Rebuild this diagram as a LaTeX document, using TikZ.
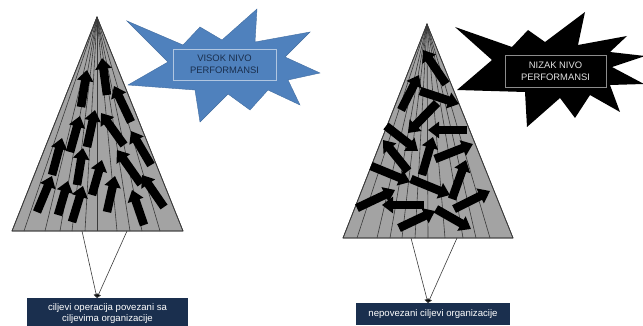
\documentclass[tikz,border=0pt]{standalone}
\usepackage{fontspec}
\setmainfont{Liberation Sans}
\usetikzlibrary{arrows.meta}
\definecolor{starblue}{HTML}{4F81BD}
\definecolor{navy}{HTML}{1A2F4E}
\definecolor{conegray}{HTML}{A3A3A3}
\definecolor{ribgray}{HTML}{3A3A3A}
\begin{document}
\begin{tikzpicture}[x=1pt,y=-1pt,
  cone/.style={fill=conegray,draw=ribgray,line width=0.7pt,line join=round},
  rib/.style={draw=ribgray,line width=0.6pt},
  blk/.style={line width=8.5pt,draw=black,
    -{Triangle[width=16pt,length=11pt,fill=black]}},
  conn/.style={draw=ribgray,line width=0.6pt,
    -{Triangle[width=5pt,length=4pt,fill=black]}},
  goalbox/.style={fill=navy,draw=none,text=white,align=center,
    font=\fontsize{9.6}{11}\selectfont},
  labelbox/.style={align=center,font=\fontsize{9.4}{12}\selectfont,
    minimum width=103pt,minimum height=31pt,inner sep=0pt,line width=0.7pt}]
\useasboundingbox (0,0) rectangle (643,326);

% ---------- left: aligned goals ----------
\coordinate (LA) at (97,17);
\fill[cone] (LA) -- (12,231) -- (183,231) -- cycle;
\foreach \x in {24,45,60,72,85,97,117,130,142,160}
  \draw[rib] (LA) -- (\x,231);
\draw[cone,fill=none] (LA) -- (12,231) -- (183,231) -- cycle;

% arrows all heading upward
\foreach \tx/\ty/\hx/\hy in {
  107/95/102/58, 81/107/87/70, 131/122/114/86, 70/152/80/116,
  87/147/95/110, 124/145/101/113, 151/165/131/131, 52/175/62/138,
  77/185/83/148, 92/195/102/160, 141/184/117/150, 164/207/142/175,
  37/212/52/176, 58/215/68/181, 72/222/83/186, 107/212/115/176,
  144/225/132/190}
  \draw[blk] (\tx,\ty) -- (\hx,\hy);

% blue burst
\fill[starblue,draw=starblue!85!black,line width=0.4pt,line join=miter]
  (127,21) -- (183,45) -- (200,27) -- (222,40) -- (257,9) -- (255,42)
  -- (310,32) -- (285,57) -- (320,73) -- (288,80) -- (300,105)
  -- (268,90) -- (250,110) -- (228,94) -- (200,122) -- (195,90)
  -- (128,85) -- (168,62) -- cycle;
\node[labelbox,draw=starblue!45!white,text=navy] (high) at (224.5,64.5)
  {VISOK NIVO\\PERFORMANSI};

% goal box and its connectors
\node[goalbox,minimum width=161pt,minimum height=32pt,inner sep=0pt]
  (goalL) at (107.5,314) {ciljevi operacija povezani sa\\ciljevima organizacije};
\coordinate (lb1) at (82,231);
\coordinate (lb2) at (127,231);
\coordinate (lt) at (97,298);
\draw[conn] (lb1) -- (lt);
\draw[conn] (lb2) -- (lt);

% ---------- right: unaligned goals ----------
\coordinate (RA) at (427,24);
\fill[cone] (RA) -- (343,238) -- (513,238) -- cycle;
\foreach \x in {357,377,390,402,415,428,445,463,476,490}
  \draw[rib] (RA) -- (\x,238);
\draw[cone,fill=none] (RA) -- (343,238) -- (513,238) -- cycle;

% arrows scattered in every direction
\foreach \tx/\ty/\hx/\hy in {
  446/84/423/50, 401/110/419/75, 420/91/459/104, 437/103/408/133,
  467/130/428/130, 386/126/418/151, 422/175/433/137, 435/159/473/144,
  408/171/383/140, 371/166/410/182, 452/199/466/160, 411/179/450/195,
  357/208/395/190, 424/205/382/205, 454/209/490/191, 399/228/435/211,
  436/209/471/229}
  \draw[blk] (\tx,\ty) -- (\hx,\hy);

% black burst
\fill[black,line join=miter]
  (455,27) -- (512,47) -- (528,30) -- (545,42) -- (585,12) -- (578,45)
  -- (627,36) -- (610,52) -- (645,56) -- (612,67) -- (644,84)
  -- (610,85) -- (620,112) -- (590,95) -- (575,118) -- (560,98)
  -- (527,127) -- (525,92) -- (457,90) -- (492,60) -- cycle;
\node[labelbox,minimum width=101pt,minimum height=32pt,draw=black!45,
  text=black!12] (low) at (555.5,71) {NIZAK NIVO\\PERFORMANSI};

% goal box and its connectors
\node[goalbox,minimum width=154pt,minimum height=22pt,inner sep=0pt]
  (goalR) at (433,314) {nepovezani ciljevi organizacije};
\coordinate (rb1) at (411,238);
\coordinate (rb2) at (457,238);
\coordinate (rt) at (428,303);
\draw[conn] (rb1) -- (rt);
\draw[conn] (rb2) -- (rt);
\end{tikzpicture}
\end{document}
